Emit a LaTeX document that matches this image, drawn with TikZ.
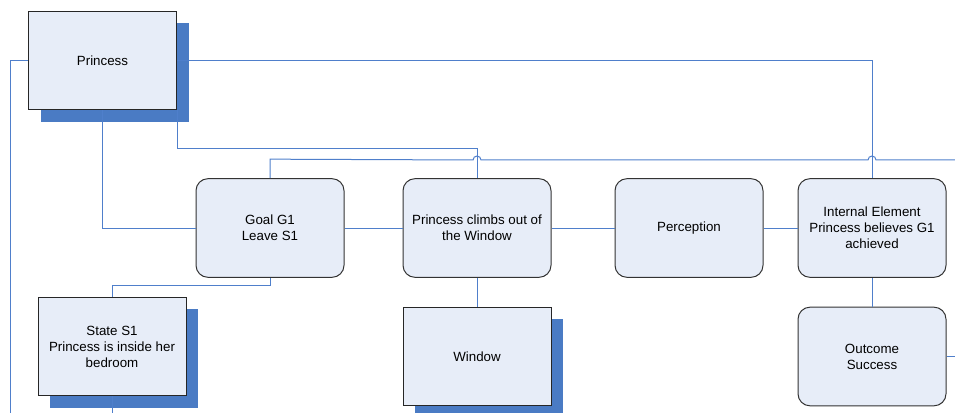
\documentclass[tikz,border=0pt]{standalone}
\usepackage{fontspec}
\setmainfont{Liberation Sans}
\usetikzlibrary{shadows}
\definecolor{boxfill}{HTML}{E7EDF8}
\definecolor{shadowblue}{HTML}{4A7BC4}
\definecolor{linkblue}{HTML}{4F7FCB}
\begin{document}
\begin{tikzpicture}[x=0.75pt, y=-0.75pt,
    font=\fontsize{10}{12}\selectfont,
    plain/.style = {draw=black!85, line width=0.75pt, fill=boxfill, minimum width=111pt, minimum height=74pt, inner sep=0pt, align=center,
        drop shadow={shadow xshift=9pt, shadow yshift=-9pt, fill=shadowblue, opacity=1}},
    round/.style = {draw=black!80, line width=0.75pt, fill=boxfill, rounded corners=9pt, minimum width=111pt, minimum height=74pt, inner sep=0pt, align=center},
    link/.style = {draw=linkblue, line width=0.75pt}]

    \useasboundingbox (0,0) rectangle (955,413);

    \node[plain] (princess) at (102.5,60.5) {Princess};
    \node[round] (goal) at (270,228) {Goal G1\\Leave S1};
    \node[round] (climb) at (477,228) {Princess climbs out of\\the Window};
    \node[round] (percep) at (689,228) {Perception};
    \node[round] (internal) at (872,228) {Internal Element\\Princess believes G1\\achieved};
    \node[plain] (state) at (112,346.5) {State S1\\Princess is inside her\\bedroom};
    \node[plain] (window) at (477,356.5) {Window};
    \node[round] (outcome) at (872,356.5) {Outcome\\Success};

    \coordinate (leftend) at (10,413);
    \coordinate (topend) at (955,160);
    \coordinate (outend) at (955,356.5);
    \coordinate (stateend) at (112,413);

    \draw[link] (princess.west) -| (leftend);
    \draw[link] (princess.east) -| (internal.north);
    \draw[link] (princess.south) |- (goal.west);
    \draw[link] (princess.south east) -- ++(0,38) -| (climb.north);
    \draw[link] (goal.north) -- ++(0,-19) -- (473,160) arc[start angle=180, end angle=0, radius=3pt]
        -- (868,160) arc[start angle=180, end angle=0, radius=3pt] -- (topend);
    \draw[link] (goal.south) -- ++(0,8) -| (state.north);
    \draw[link] (goal) -- (climb);
    \draw[link] (climb) -- (percep);
    \draw[link] (percep) -- (internal);
    \draw[link] (climb) -- (window);
    \draw[link] (internal) -- (outcome);
    \draw[link] (outcome.east) -- (outend);
    \draw[link] (state.south) -- (stateend);

\end{tikzpicture}
\end{document}
